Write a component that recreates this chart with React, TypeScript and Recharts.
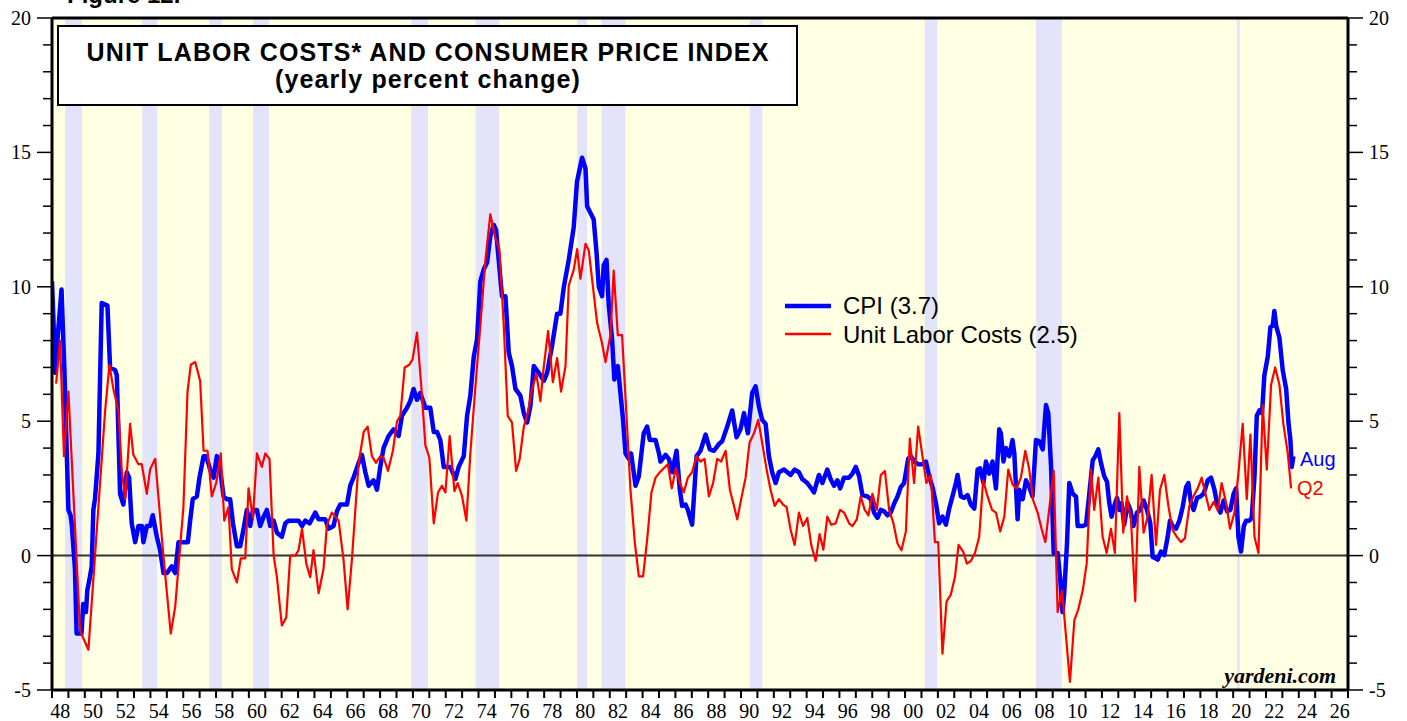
import { LineChart, Line, XAxis, YAxis, ReferenceArea, ReferenceLine } from "recharts";

// CPI, yearly % change (monthly)
const CPI: [number, number][] = [
  [1948.0, 10.2], [1948.08, 8.9], [1948.2, 6.8], [1948.33, 8.0], [1948.58, 9.9], [1948.75, 7.0],
  [1949.0, 1.7], [1949.13, 1.5], [1949.2, 1.2], [1949.4, -0.5], [1949.5, -2.9], [1949.8, -2.9],
  [1949.9, -1.8], [1950.07, -2.1], [1950.15, -1.3], [1950.28, -0.9], [1950.42, -0.4], [1950.52, 1.7],
  [1950.62, 2.1], [1950.83, 3.8], [1951.03, 9.4], [1951.38, 9.3], [1951.54, 7.0], [1951.85, 6.9],
  [1951.95, 6.7], [1952.15, 2.3], [1952.35, 1.9], [1952.56, 3.1], [1952.7, 2.9], [1952.86, 1.2],
  [1953.07, 0.5], [1953.27, 1.1], [1953.48, 1.1], [1953.57, 0.5], [1953.78, 1.1], [1953.98, 1.1],
  [1954.14, 1.5], [1954.39, 0.7], [1954.59, 0.2], [1954.8, -0.65], [1955.0, -0.65], [1955.3, -0.4],
  [1955.51, -0.65], [1955.71, 0.5], [1956.02, 0.5], [1956.28, 0.5], [1956.42, 1.3], [1956.58, 2.1],
  [1956.83, 2.2], [1956.99, 2.9], [1957.24, 3.7], [1957.4, 3.7], [1957.64, 3.2], [1957.85, 2.9],
  [1958.05, 3.7], [1958.25, 3.2], [1958.46, 2.2], [1958.66, 2.1], [1958.86, 2.1], [1959.03, 1.2],
  [1959.27, 0.35], [1959.47, 0.35], [1959.68, 1.0], [1959.88, 1.7], [1960.08, 1.1], [1960.25, 1.7],
  [1960.49, 1.7], [1960.69, 1.1], [1960.9, 1.45], [1961.1, 1.7], [1961.3, 1.1], [1961.51, 1.3],
  [1961.71, 0.85], [1962.01, 0.7], [1962.22, 1.2], [1962.42, 1.3], [1962.73, 1.3], [1963.03, 1.3],
  [1963.24, 1.1], [1963.44, 1.3], [1963.7, 1.2], [1964.05, 1.6], [1964.25, 1.35], [1964.66, 1.35],
  [1964.86, 1.0], [1965.16, 1.1], [1965.37, 1.65], [1965.57, 1.9], [1965.98, 1.9], [1966.18, 2.6],
  [1966.38, 2.9], [1966.69, 3.45], [1966.89, 3.75], [1967.1, 3.1], [1967.3, 2.6], [1967.6, 2.8],
  [1967.81, 2.45], [1968.01, 3.3], [1968.21, 4.0], [1968.52, 4.45], [1968.82, 4.7], [1969.13, 4.45],
  [1969.33, 5.2], [1969.64, 5.5], [1969.84, 5.75], [1970.04, 6.2], [1970.25, 5.8], [1970.45, 6.05],
  [1970.76, 5.5], [1971.06, 5.5], [1971.27, 4.6], [1971.47, 4.6], [1971.67, 4.3], [1971.88, 3.3],
  [1972.08, 3.3], [1972.28, 3.3], [1972.59, 2.85], [1972.79, 3.3], [1973.1, 3.7], [1973.3, 5.2],
  [1973.5, 5.95], [1973.71, 7.4], [1973.91, 8.05], [1974.11, 10.2], [1974.32, 10.65], [1974.52, 10.9],
  [1974.72, 11.9], [1974.93, 12.3], [1975.07, 12.1], [1975.23, 11.0], [1975.43, 9.65], [1975.64, 9.65],
  [1975.84, 7.55], [1976.04, 7.05], [1976.25, 6.2], [1976.55, 5.95], [1976.76, 5.3], [1976.96, 4.95],
  [1977.16, 5.55], [1977.37, 7.05], [1977.67, 6.8], [1977.98, 6.5], [1978.18, 6.8], [1978.48, 7.8],
  [1978.79, 9.0], [1978.99, 9.0], [1979.2, 10.0], [1979.5, 11.0], [1979.7, 11.8], [1979.8, 12.2],
  [1980.0, 13.9], [1980.31, 14.8], [1980.52, 14.4], [1980.62, 13.0], [1980.78, 12.8], [1981.02, 12.5],
  [1981.19, 11.3], [1981.33, 10.0], [1981.53, 9.65], [1981.63, 10.8], [1981.8, 11.0], [1981.94, 9.3],
  [1982.14, 8.05], [1982.28, 6.55], [1982.49, 7.05], [1982.65, 6.05], [1982.81, 5.05], [1982.96, 3.8],
  [1983.16, 3.6], [1983.3, 3.8], [1983.57, 2.6], [1983.77, 2.95], [1984.07, 4.55], [1984.28, 4.8],
  [1984.44, 4.3], [1984.79, 4.3], [1985.0, 3.8], [1985.09, 3.5], [1985.4, 3.75], [1985.6, 3.6],
  [1985.8, 3.1], [1986.07, 3.9], [1986.27, 2.45], [1986.41, 1.85], [1986.62, 1.9], [1986.76, 1.7],
  [1987.02, 1.15], [1987.29, 3.7], [1987.53, 3.9], [1987.84, 4.5], [1988.1, 3.95], [1988.35, 3.9],
  [1988.65, 4.15], [1988.85, 4.25], [1989.16, 4.8], [1989.46, 5.4], [1989.73, 4.4], [1989.97, 4.7],
  [1990.18, 5.3], [1990.42, 4.55], [1990.68, 6.05], [1990.89, 6.3], [1991.09, 5.55], [1991.29, 5.05],
  [1991.5, 4.9], [1991.7, 3.7], [1991.9, 3.1], [1992.11, 2.7], [1992.31, 3.1], [1992.62, 3.2],
  [1992.82, 3.1], [1993.02, 3.0], [1993.27, 3.2], [1993.53, 3.1], [1993.73, 2.85], [1994.04, 2.7],
  [1994.34, 2.45], [1994.45, 2.35], [1994.75, 3.0], [1994.96, 2.7], [1995.26, 3.2], [1995.46, 2.85],
  [1995.67, 2.6], [1995.88, 2.8], [1996.04, 2.5], [1996.28, 2.9], [1996.59, 2.9], [1996.79, 3.05],
  [1997.0, 3.3], [1997.2, 2.95], [1997.4, 2.25], [1997.71, 2.2], [1997.91, 2.1], [1998.11, 1.6],
  [1998.32, 1.4], [1998.52, 1.7], [1998.72, 1.65], [1998.93, 1.5], [1999.13, 1.6], [1999.34, 1.95],
  [1999.54, 2.2], [1999.74, 2.55], [1999.94, 2.7], [2000.19, 3.6], [2000.35, 3.7], [2000.55, 3.5],
  [2000.8, 3.4], [2001.06, 3.4], [2001.27, 3.5], [2001.47, 2.95], [2001.67, 2.55], [2001.88, 1.95],
  [2002.08, 1.2], [2002.28, 1.45], [2002.49, 1.15], [2002.69, 1.75], [2002.89, 2.2], [2003.1, 2.7],
  [2003.2, 3.0], [2003.4, 2.2], [2003.6, 2.15], [2003.81, 2.25], [2004.01, 1.9], [2004.22, 1.75],
  [2004.42, 3.2], [2004.58, 3.25], [2004.78, 2.7], [2004.93, 3.5], [2005.13, 3.05], [2005.33, 3.5],
  [2005.54, 2.5], [2005.74, 4.7], [2005.84, 4.55], [2006.0, 3.5], [2006.15, 4.0], [2006.35, 3.7],
  [2006.55, 4.3], [2006.66, 3.8], [2006.86, 1.35], [2006.96, 2.45], [2007.17, 2.1], [2007.37, 2.8],
  [2007.57, 2.55], [2007.77, 2.2], [2007.98, 4.3], [2008.18, 4.25], [2008.39, 3.95], [2008.59, 5.6],
  [2008.73, 5.3], [2008.9, 3.3], [2009.06, 0.1], [2009.3, 0.1], [2009.46, -0.9], [2009.6, -2.1],
  [2009.7, -1.4], [2009.87, 0.45], [2010.01, 2.7], [2010.22, 2.3], [2010.42, 2.2], [2010.52, 1.1],
  [2010.83, 1.1], [2011.03, 1.15], [2011.23, 2.3], [2011.44, 3.55], [2011.6, 3.7], [2011.78, 3.95],
  [2011.94, 3.45], [2012.14, 2.95], [2012.31, 2.75], [2012.45, 1.95], [2012.59, 1.45], [2012.75, 1.85],
  [2012.92, 2.15], [2013.06, 1.7], [2013.2, 1.95], [2013.36, 1.15], [2013.57, 1.95], [2013.73, 1.7],
  [2013.93, 1.1], [2014.14, 1.6], [2014.34, 1.7], [2014.54, 2.05], [2014.75, 1.7], [2014.95, 1.2],
  [2015.09, -0.05], [2015.26, -0.1], [2015.4, -0.15], [2015.6, 0.15], [2015.8, 0.02], [2016.01, 0.7],
  [2016.15, 1.3], [2016.31, 1.1], [2016.52, 1.0], [2016.72, 1.3], [2016.92, 1.8], [2017.13, 2.55],
  [2017.27, 2.7], [2017.43, 1.95], [2017.59, 1.7], [2017.8, 2.15], [2018.0, 2.2], [2018.2, 2.3],
  [2018.45, 2.8], [2018.65, 2.9], [2018.86, 2.45], [2019.06, 1.8], [2019.22, 1.6], [2019.42, 2.05],
  [2019.63, 1.65], [2019.83, 1.7], [2020.03, 2.3], [2020.18, 2.5], [2020.32, 0.7], [2020.48, 0.15],
  [2020.65, 1.1], [2020.79, 1.3], [2020.99, 1.3], [2021.13, 1.4], [2021.3, 2.95], [2021.44, 5.2],
  [2021.6, 5.4], [2021.76, 5.3], [2021.9, 6.7], [2022.11, 7.4], [2022.27, 8.5], [2022.41, 8.55],
  [2022.51, 9.1], [2022.62, 8.55], [2022.82, 8.1], [2023.02, 6.9], [2023.23, 6.2], [2023.37, 4.95],
  [2023.49, 4.3], [2023.57, 3.3], [2023.67, 3.7],
];

// Unit labor costs, yearly % change (quarterly)
const ULC: [number, number][] = [
  [1948.25, 6.4], [1948.49, 8.0], [1948.73, 3.7], [1949.0, 6.1], [1949.71, -2.8], [1950.22, -3.5],
  [1951.24, 5.4], [1951.5, 7.1], [1951.74, 6.2], [1952.05, 5.4], [1952.25, 3.2], [1952.46, 2.1],
  [1952.76, 4.9], [1952.96, 3.75], [1953.27, 3.4], [1953.47, 3.4], [1953.78, 2.3], [1953.98, 3.2],
  [1954.29, 3.6], [1954.79, 0.0], [1955.24, -2.9], [1955.51, -1.9], [1956.01, 1.8], [1956.26, 6.1],
  [1956.46, 7.1], [1956.73, 7.2], [1957.03, 6.5], [1957.24, 3.9], [1957.48, 3.9], [1957.74, 2.2],
  [1958.01, 2.7], [1958.29, 3.8], [1958.5, 1.3], [1958.76, 1.8], [1958.96, -0.5], [1959.27, -1.0],
  [1959.51, -0.1], [1959.78, -0.1], [1959.98, 2.5], [1960.25, 1.4], [1960.49, 3.8], [1960.79, 3.3],
  [1961.0, 3.8], [1961.26, 3.6], [1961.51, 0.0], [1961.71, -0.8], [1962.01, -2.6], [1962.28, -2.3],
  [1962.52, 0.0], [1962.83, 0.0], [1963.03, 0.2], [1963.24, 1.0], [1963.5, -0.3], [1963.74, -0.8],
  [1963.94, 0.2], [1964.25, -1.4], [1964.55, -0.5], [1964.76, 1.15], [1965.06, 1.6], [1965.47, 1.3],
  [1965.77, -0.15], [1966.02, -2.0], [1966.28, -0.15], [1966.69, 3.45], [1967.0, 4.6], [1967.24, 4.8],
  [1967.5, 3.7], [1967.75, 3.45], [1968.01, 3.7], [1968.21, 3.65], [1968.48, 3.15], [1968.78, 3.9],
  [1969.03, 5.0], [1969.23, 5.2], [1969.5, 7.0], [1969.78, 7.1], [1969.98, 7.3], [1970.25, 8.3],
  [1970.51, 6.3], [1970.76, 4.1], [1971.0, 3.65], [1971.27, 1.2], [1971.53, 2.35], [1971.77, 2.6],
  [1971.98, 2.35], [1972.24, 4.45], [1972.53, 2.4], [1972.73, 2.7], [1973.0, 2.2], [1973.26, 1.3],
  [1973.5, 3.8], [1973.81, 6.3], [1974.11, 8.55], [1974.42, 11.0], [1974.72, 12.7], [1975.03, 11.8],
  [1975.27, 11.4], [1975.54, 8.55], [1975.78, 5.2], [1976.04, 4.95], [1976.29, 3.15], [1976.51, 3.6],
  [1976.76, 4.8], [1977.0, 5.3], [1977.26, 6.2], [1977.53, 6.75], [1977.77, 5.75], [1977.98, 7.05],
  [1978.24, 8.35], [1978.53, 6.45], [1978.79, 7.35], [1979.03, 6.1], [1979.3, 7.05], [1979.5, 10.05],
  [1979.81, 10.65], [1980.01, 11.4], [1980.21, 10.3], [1980.52, 11.6], [1980.72, 11.35], [1981.23, 8.65],
  [1981.53, 7.9], [1981.74, 7.2], [1982.04, 8.2], [1982.24, 10.6], [1982.49, 8.2], [1982.75, 8.2],
  [1983.02, 5.2], [1983.26, 2.45], [1983.53, 0.47], [1983.77, -0.77], [1984.03, -0.77], [1984.28, 0.6],
  [1984.54, 2.35], [1984.79, 2.9], [1985.05, 3.1], [1985.29, 3.25], [1985.54, 3.4], [1985.78, 2.5],
  [1986.03, 3.25], [1986.27, 2.7], [1986.51, 2.35], [1986.76, 2.9], [1987.02, 3.1], [1987.29, 3.7],
  [1987.53, 3.5], [1987.78, 3.6], [1988.04, 2.2], [1988.3, 2.7], [1988.55, 3.6], [1988.79, 3.5],
  [1989.06, 3.9], [1989.32, 2.45], [1989.57, 1.85], [1989.77, 1.35], [1990.01, 2.1], [1990.28, 2.9],
  [1990.52, 4.2], [1990.79, 4.55], [1991.05, 5.05], [1991.29, 4.2], [1991.56, 3.2], [1991.8, 2.45],
  [1992.05, 1.85], [1992.31, 2.1], [1992.56, 1.9], [1992.78, 1.8], [1993.02, 0.97], [1993.27, 0.4],
  [1993.53, 1.6], [1993.78, 1.1], [1994.04, 1.4], [1994.28, 0.4], [1994.55, -0.2], [1994.79, 0.8],
  [1995.02, 0.22], [1995.26, 1.45], [1995.5, 1.15], [1995.77, 1.2], [1996.04, 1.7], [1996.28, 1.6],
  [1996.59, 1.2], [1996.79, 1.1], [1997.06, 1.35], [1997.3, 2.2], [1997.54, 1.7], [1997.77, 1.5],
  [1998.01, 2.3], [1998.28, 1.7], [1998.52, 3.0], [1998.77, 3.15], [1999.03, 1.7], [1999.29, 1.2],
  [1999.54, 0.45], [1999.78, 0.2], [2000.05, 0.9], [2000.29, 4.35], [2000.55, 2.7], [2000.8, 4.8],
  [2001.06, 3.7], [2001.3, 2.7], [2001.57, 3.0], [2001.82, 0.5], [2002.02, 0.5], [2002.28, -3.65],
  [2002.53, -1.7], [2002.79, -1.45], [2003.04, -0.8], [2003.26, 0.4], [2003.54, 0.15], [2003.77, -0.3],
  [2004.01, -0.2], [2004.26, 0.1], [2004.52, 0.7], [2004.76, 2.8], [2005.03, 2.2], [2005.3, 1.7],
  [2005.54, 1.6], [2005.8, 0.9], [2006.05, 1.45], [2006.29, 3.2], [2006.55, 2.65], [2006.8, 2.5],
  [2007.06, 2.9], [2007.33, 3.9], [2007.57, 3.2], [2007.81, 2.05], [2008.08, 1.6], [2008.32, 1.0],
  [2008.55, 0.5], [2008.79, 1.75], [2009.06, 3.15], [2009.3, -2.1], [2009.57, -1.3], [2009.81, -3.0],
  [2010.05, -4.7], [2010.32, -2.4], [2010.56, -2.0], [2010.83, -1.3], [2011.07, -0.3], [2011.33, 3.2],
  [2011.53, 1.7], [2011.78, 2.9], [2012.04, 0.7], [2012.29, 0.1], [2012.55, 1.0], [2012.79, 0.1],
  [2013.06, 5.3], [2013.3, 0.85], [2013.53, 2.2], [2013.77, 1.35], [2014.03, -1.7], [2014.28, 3.3],
  [2014.54, 0.85], [2014.79, 1.45], [2015.03, 3.0], [2015.3, 0.4], [2015.54, 2.45], [2015.8, 3.0],
  [2016.05, 1.85], [2016.31, 0.95], [2016.56, 0.7], [2016.82, 0.5], [2017.06, 0.65], [2017.33, 1.85],
  [2017.57, 2.2], [2017.84, 2.5], [2018.08, 2.9], [2018.31, 2.3], [2018.55, 1.7], [2018.81, 2.0],
  [2019.06, 1.7], [2019.3, 2.7], [2019.57, 1.95], [2019.81, 1.0], [2020.08, 1.6], [2020.34, 3.2],
  [2020.58, 4.9], [2020.83, 2.1], [2021.05, 4.5], [2021.3, 0.7], [2021.54, 0.1], [2021.8, 5.6],
  [2022.05, 3.2], [2022.31, 6.35], [2022.56, 7.0], [2022.82, 6.35], [2023.06, 4.9], [2023.33, 3.8],
  [2023.53, 2.5],
];

// recession periods (shaded)
const RECESSIONS: [number, number][] = [
  [1948.8, 1949.83], [1953.5, 1954.42], [1957.58, 1958.35], [1960.26, 1961.22],
  [1969.9, 1970.92], [1973.82, 1975.27], [1980.02, 1980.62], [1981.5, 1982.96],
  [1990.53, 1991.3], [2001.2, 2001.97], [2007.97, 2009.56], [2020.22, 2020.4],
];

const X_MIN = 1948;
const X_MAX = 2027;
const Y_MIN = -5;
const Y_MAX = 20;
const YEAR_TICKS = Array.from({ length: X_MAX - X_MIN + 1 }, (_, i) => X_MIN + i);
const LABEL_TICKS = YEAR_TICKS.filter((y) => y % 2 === 0 && y < X_MAX).map((y) => y + 0.5);
const X_TICKS = [...YEAR_TICKS, ...LABEL_TICKS].sort((a, b) => a - b);
const Y_TICKS = Array.from({ length: Y_MAX - Y_MIN + 1 }, (_, i) => Y_MIN + i);

const TITLE = "UNIT LABOR COSTS* AND CONSUMER PRICE INDEX";
const SUBTITLE = "(yearly percent change)";
const CPI_LABEL = "CPI (3.7)";
const ULC_LABEL = "Unit Labor Costs (2.5)";

const BG_FILL = "#FFFFE3";
const RECESSION_FILL = "#E3E3FA";
const CPI_COLOR = "#0000FF";
const ULC_COLOR = "#FF0000";
const SERIF = "'Liberation Serif', 'DejaVu Serif', serif";
const SANS = "'Liberation Sans', Arial, sans-serif";

const cpiData = CPI.map(([t, v]) => ({ t, v }));
const ulcData = ULC.map(([t, v]) => ({ t, v }));

function XTick(props: any) {
  const { x, y, payload } = props;
  const value: number = payload.value;
  if (Number.isInteger(value)) {
    return <line x1={x} x2={x} y1={y} y2={y + 8} stroke="#000" strokeWidth={2} />;
  }
  const label = String(Math.floor(value) % 100).padStart(2, "0");
  return (
    <text x={x} y={y + 28} textAnchor="middle" fontFamily={SERIF} fontSize={20} fill="#000">
      {label}
    </text>
  );
}

function YTick(props: any) {
  const { x, y, payload, side } = props;
  const value: number = payload.value;
  const major = value % 5 === 0;
  const len = major ? 15 : 9;
  const dir = side === "left" ? -1 : 1;
  return (
    <g>
      <line x1={x} x2={x + dir * len} y1={y} y2={y} stroke="#000" strokeWidth={1.5} />
      {major && (
        <text
          x={x + dir * 21}
          y={y + 7}
          textAnchor={side === "left" ? "end" : "start"}
          fontFamily={SERIF}
          fontSize={20}
          fill="#000"
        >
          {value}
        </text>
      )}
    </g>
  );
}

function Overlay() {
  return (
    <svg
      width={1407}
      height={721}
      style={{ position: "absolute", left: 0, top: 0, pointerEvents: "none" }}
    >
      <text x={67} y={3} fontFamily={SANS} fontWeight="bold" fontSize={24} fill="#000">
        Figure 12.
      </text>
      <rect x={58} y={26} width={739} height={79} fill="#fff" stroke="#000" strokeWidth={2} />
      <text x={428} y={61} textAnchor="middle" fontFamily={SANS} fontWeight="bold" fontSize={25} letterSpacing={1.1} fill="#000">
        {TITLE}
      </text>
      <text x={428} y={88} textAnchor="middle" fontFamily={SANS} fontWeight="bold" fontSize={25} letterSpacing={1.1} fill="#000">
        {SUBTITLE}
      </text>

      <line x1={785} x2={831} y1={306} y2={306} stroke={CPI_COLOR} strokeWidth={4.5} />
      <text x={843} y={314} fontFamily={SANS} fontSize={24} fill="#000">{CPI_LABEL}</text>
      <line x1={785} x2={831} y1={334} y2={334} stroke={ULC_COLOR} strokeWidth={2.5} />
      <text x={843} y={343} fontFamily={SANS} fontSize={24} fill="#000">{ULC_LABEL}</text>

      <text x={1300} y={466} fontFamily={SANS} fontSize={20} fill={CPI_COLOR}>Aug</text>
      <text x={1297} y={495} fontFamily={SANS} fontSize={20} fill={ULC_COLOR}>Q2</text>

      <text x={1336} y={683} textAnchor="end" fontFamily={SERIF} fontWeight="bold" fontStyle="italic" fontSize={22} fill="#000">
        yardeni.com
      </text>
    </svg>
  );
}

export default function App() {
  return (
    <div style={{ position: "absolute", left: 0, top: 0, width: 1407, height: 721, background: "#fff", overflow: "hidden" }}>
      <LineChart width={1407} height={721} margin={{ top: 18, right: 0, bottom: 0, left: 0 }}>
        <ReferenceArea x1={X_MIN} x2={X_MAX} y1={Y_MIN} y2={Y_MAX} fill={BG_FILL} fillOpacity={1} stroke="none" />
        {RECESSIONS.map(([a, b]) => (
          <ReferenceArea key={a} x1={a} x2={b} y1={Y_MIN} y2={Y_MAX} fill={RECESSION_FILL} fillOpacity={1} stroke="none" />
        ))}
        <ReferenceLine y={0} stroke="#333" strokeWidth={2} />
        <Line
          data={cpiData}
          dataKey="v"
          type="linear"
          stroke={CPI_COLOR}
          strokeWidth={4.5}
          strokeLinejoin="round"
          dot={false}
          activeDot={false}
          isAnimationActive={false}
        />
        <Line
          data={ulcData}
          dataKey="v"
          type="linear"
          stroke={ULC_COLOR}
          strokeWidth={2.2}
          strokeLinejoin="round"
          dot={false}
          activeDot={false}
          isAnimationActive={false}
        />
        <ReferenceLine y={Y_MAX} stroke="#000" strokeWidth={3} />
        <XAxis
          type="number"
          dataKey="t"
          domain={[X_MIN, X_MAX]}
          ticks={X_TICKS}
          interval={0}
          allowDataOverflow
          height={31}
          tickLine={false}
          tickSize={0}
          tickMargin={0}
          axisLine={{ stroke: "#000", strokeWidth: 3 }}
          tick={(p: any) => <XTick {...p} />}
        />
        <YAxis
          orientation="left"
          width={52}
          domain={[Y_MIN, Y_MAX]}
          ticks={Y_TICKS}
          interval={0}
          allowDataOverflow
          tickLine={false}
          tickSize={0}
          tickMargin={0}
          axisLine={{ stroke: "#000", strokeWidth: 3 }}
          tick={(p: any) => <YTick {...p} side="left" />}
        />
        <YAxis
          yAxisId="right"
          orientation="right"
          width={59}
          domain={[Y_MIN, Y_MAX]}
          ticks={Y_TICKS}
          interval={0}
          allowDataOverflow
          tickLine={false}
          tickSize={0}
          tickMargin={0}
          axisLine={{ stroke: "#000", strokeWidth: 3 }}
          tick={(p: any) => <YTick {...p} side="right" />}
        />
      </LineChart>
      <Overlay />
    </div>
  );
}
